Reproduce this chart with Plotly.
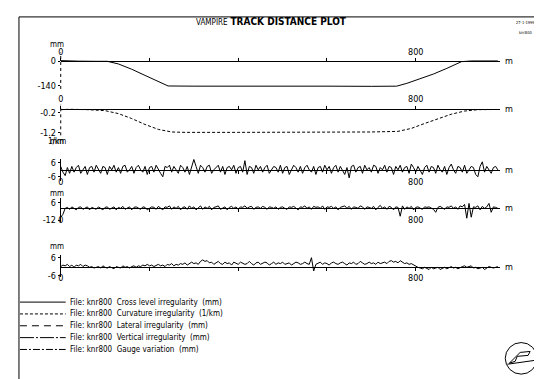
import plotly.graph_objects as go

# ---------------- data ----------------
cross_dist = [0, 15, 40, 80, 105, 130, 160, 190, 220, 242, 300, 400, 500, 600, 700, 757, 780, 810, 840, 870, 903, 925, 950, 985]
cross_level = [4, 2, 1, 0, 0, -15, -45, -80, -115, -140, -141, -140, -140, -141, -142, -141, -125, -100, -72, -40, -2, 2, 3, 2]

curv_dist = [0, 20, 60, 100, 130, 160, 190, 220, 250, 280, 400, 500, 600, 700, 760, 790, 820, 850, 880, 910, 940, 985]
curvature = [-0.05, -0.03, -0.05, -0.1, -0.25, -0.5, -0.8, -1.05, -1.18, -1.2, -1.2, -1.2, -1.19, -1.18, -1.15, -1.0, -0.75, -0.5, -0.28, -0.12, -0.05, -0.04]

# irregularities sampled every 5 m from 0 to 985 m
irr_dist = list(range(0, 990, 5))

lateral = [
    3, -2, -5, 2, -3, 3, -2, 2, 4, -3, 0, 3, -4, 2, 3, -2, 4, 0, -3, 3,
    2, -4, 3, 0, 4, -2, 2, -3, 3, 4, -2, 0, 3, -3, 2, 4, 0, -2, 3, -4,
    2, 3, -2, 4, 0, -3, -6, 3, 2, 4, -2, 3, 0, -3, 4, 2, -2, 3, -4, 2,
    9, 3, -3, 4, 2, -2, 3, 4, -3, 0, 2, 4, -2, 3, -4, 2, 3, 0, 4, -3,
    2, 3, -2, 8, -4, 3, 2, -3, 4, 0, 3, -2, 2, 4, -3, 0, 3, 2, -2, 4,
    -3, 2, 3, -4, 0, 4, 2, -2, 3, -3, 2, 4, 0, -2, 3, -4, 2, 3, -2, 4,
    0, 3, -3, 2, 4, -2, 3, 0, -4, 2, -7, 3, 4, -2, 2, 3, -3, 4, 0, 2,
    -2, 4, 3, -3, 2, 0, 4, -2, 3, 2, -4, 3, 0, 4, -2, 2, 3, -3, 5, 2,
    -2, 3, 0, -4, 2, 4, -2, 3, 2, -3, 4, 0, -2, 3, -4, 2, 5, 0, -3, 3,
    2, -2, 4, -3, 0, 3, 2, -4, -6, 3, 7, -2, 3, 0, -3, 2, 3, 0,
]

vertical = [
    -9, -6, 0, 1, -1, 1.5, 0, -1.5, 1, 1.5, -1, 0, 1.5, -1.5, 1, 0, -1, 1.5, 0, -1.5,
    1, 1.5, -1, 0, 1.5, -1.5, 1, 0, 2, -1, 0, 1.5, -1.5, 1, 1.5, 0, -1, 1.5, 1, -1.5,
    0, 1.5, 1, -1, 2, 0, -1.5, 1.5, 1, 2.5, -1, 1.5, 0, 2, -1.5, 1, 1.5, -1, 2.5, 0,
    1.5, -1.5, 1, 2.5, -1, 1.5, 0, 2, -1.5, 1, 1.5, 2.5, -1, 0, 1.5, -1.5, 1, 2, 0, 1.5,
    -1, 1.5, 1, 2.5, 0, 1.5, 2, -1, 1, 1.5, 0, 2, 1, -1, 1.5, 1, 0, 1.5, -1, 1,
    1.5, 0, -1, 1.5, 1, 2, 0, -1.5, 1.5, 1, 2.5, 0, 1.5, -1, 2, 1, 1.5, 0, 2.5, -1,
    1.5, 1, 2, 0, 1.5, -1.5, 1, 1.5, 2.5, 0, 2, -1, 1.5, 1, 0, 2.5, 1.5, -1, 1.5, 1,
    0, 2, -1.5, 1, 3, 0, 1.5, -1, 2, 1, -1.5, 1.5, 1, -8, 2.5, -1, 1.5, 0, 2, -1.5,
    1, 1.5, 0, -1, 1.5, 1, 1.5, 0, -1, -4, 1, 2, 0, -1, 1.5, 1, 2.5, 0, 1.5, -1,
    2.5, 1.5, 4, -10, 5, -9, 1.5, 1, 2.5, -1.5, 2, 0, 1.5, 5, -4, 1.5, 1, 0,
]

gauge = [
    0, 1, 0.5, 1.5, 0, 1, -0.5, 1, 0.5, 1.5, 0, 1, 0.5, -0.5, 0, -1, -0.5, 0, -1, 0.5,
    -0.5, -1, 0, -0.5, -1.5, 0, -0.5, -1, 0.5, -0.5, 0, -1, 0, 0.5, -0.5, 0.5, 0, 1, 0.5, 1.5,
    0.5, 1, 0, 1, 1.5, 0.5, 1, 0, 1.5, 1, 2, 0.5, 1.5, 1, 2, 1.5, 2.5, 1, 2, 3,
    2, 2.5, 1.5, 3.5, 4.5, 3.5, 4, 2.5, 3, 1.5, 2.5, 3.5, 2, 1.5, 3, 2, 2.5, 1, 3, 2,
    1.5, 3, 2.5, 1.5, 2, 3.5, 2, 1, 2.5, 3, 1.5, 2, 3, 2.5, 1, 2, 3, 1.5, 2.5, 2,
    3, 1.5, 2, 2.5, 1, 2, 3, 2.5, 1.5, 2, 3, 2, 1.5, 6, -3, 1.5, 2, 3, 1.5, 2.5,
    2, 1, 2.5, 3, 2, 1.5, 2.5, 3, 2, 1, 2.5, 2, 3, 1.5, 2, 3.5, 2.5, 1.5, 2, 3,
    2, 2.5, 1.5, 3, 2, 2.5, 3, 2, 3.5, 4, 3, 3.5, 2.5, 4, 3, 2, 2.5, 1.5, 2, 1,
    0.5, -0.5, -1, -1.5, -0.5, -1, -2, -0.5, -1.5, -1, -0.5, -2, -1, -0.5, -1.5, -1, 0, -1, -0.5, -1.5,
    -0.5, 0, 0.5, -0.5, 0, 0.5, -1, -0.5, -1.5, -1, -0.5, -2, -1, 0, -0.5, -1, -0.5, 0,
]

legend_names = [
    "File: knr800  Cross level irregularity  (mm)",
    "File: knr800  Curvature irregularity  (1/km)",
    "File: knr800  Lateral irregularity  (mm)",
    "File: knr800  Vertical irregularity  (mm)",
    "File: knr800  Gauge variation  (mm)",
]
legend_dashes = ["solid", "3px,2px", "7px,5px", "14px,2px,2px,2px", "7px,2px,2px,2px"]

y_ticks = [[0, -140], [-0.2, -1.2], [6, -6], [6, -12], [6, -6]]
y_ticktext = [["0", "-140"], ["-0.2", "-1.2"], ["6", "-6"], ["6", "-12"], ["6", "-6"]]
x_tickvals = [0, 200, 400, 600, 800]
x_ticktext = ["0", "", "", "", "800"]

# ---------------- layout helpers (pixel geometry) ----------------
W, H = 542, 379
FONT = "Liberation Sans Narrow, Arial Narrow, DejaVu Sans Condensed, Liberation Sans, sans-serif"


def fx(p):
    return p / W


def fy(p):
    return 1 - p / H


X0, X1 = 50, 492           # pixel extent of distance axes
XMAX = (X1 - X0) / (357 / 800)

# (zero-line pixel, pixels per unit, top pixel, bottom pixel, label side, dotted y axis)
panels = [
    (52, 25 / 140, 43, 80, "top", True),
    (100, 24 / 1.2, 96, 127, "top", True),
    (162, 7 / 6, 151, 173, "bottom", False),
    (201, 1.0, 191, 215, "bottom", False),
    (260, 1.5, 248, 271, "bottom", False),
]

series_x = [cross_dist, curv_dist, irr_dist, irr_dist, irr_dist]
series_y = [cross_level, curvature, lateral, vertical, gauge]
series_dash = ["solid", "3px,2px", "solid", "solid", "solid"]

fig = go.Figure()
layout = dict(
    width=W, height=H,
    margin=dict(l=0, r=0, t=0, b=0),
    paper_bgcolor="white", plot_bgcolor="rgba(0,0,0,0)",
    font=dict(family=FONT, size=9, color="black"),
    showlegend=False,
)

annotations = []
shapes = []
for i, (zp, s, tp, bp, side, dotted) in enumerate(panels):
    n = "" if i == 0 else str(i + 1)
    fig.add_trace(go.Scatter(
        x=series_x[i], y=series_y[i], mode="lines",
        line=dict(color="black", width=1, dash=series_dash[i]),
        xaxis="x" + n, yaxis="y" + n, showlegend=False, hoverinfo="skip",
    ))
    ytop = (zp - tp) / s
    ybot = -(bp - zp) / s
    layout["xaxis" + n] = dict(
        domain=[fx(X0), fx(X1)], range=[0, XMAX], anchor="free",
        position=fy(zp), side=side, showline=True, linecolor="black", linewidth=1,
        showgrid=False, zeroline=False, ticks="outside", ticklen=3, tickwidth=1,
        tickcolor="black", tickvals=x_tickvals, ticktext=x_ticktext,
        tickfont=dict(size=9, family=FONT), fixedrange=True,
    )
    layout["yaxis" + n] = dict(
        domain=[fy(bp), fy(tp)], range=[ybot, ytop], anchor="x" + n,
        showline=not dotted, linecolor="black", linewidth=1, showgrid=False,
        zeroline=False, ticks="outside", ticklen=2, tickwidth=1,
        tickcolor="black", tickvals=y_ticks[i], ticktext=y_ticktext[i],
        tickfont=dict(size=9, family=FONT), fixedrange=True,
    )
    if dotted:
        shapes.append(dict(
            type="line", xref="x" + n + " domain", yref="y" + n + " domain",
            x0=0, x1=0, y0=0, y1=1, line=dict(color="black", width=1, dash="dot"),
        ))
    annotations.append(dict(
        x=fx(X1 + 3), y=fy(zp), xref="paper", yref="paper", text="m",
        showarrow=False, xanchor="left", yanchor="middle",
        font=dict(size=9, family=FONT),
    ))

# unit labels above the y axes
for txt, ypix in [("mm", 35), ("1/km", 133), ("mm", 133), ("mm", 186), ("mm", 240)]:
    annotations.append(dict(
        x=fx(46), y=fy(ypix), xref="paper", yref="paper", text=txt,
        showarrow=False, xanchor="center", yanchor="middle",
        font=dict(size=8, family=FONT),
    ))

# title
annotations.append(dict(
    x=fx(262), y=fy(12), xref="paper", yref="paper",
    text="<span style='font-size:8px'>VAMPIRE</span> <b>TRACK DISTANCE PLOT</b>",
    showarrow=False, xanchor="center", yanchor="middle",
    font=dict(size=10, family=FONT),
))
# tiny header notes, top right
for txt, ypix in [("27-1-1999", 13), ("knr800", 23)]:
    annotations.append(dict(
        x=fx(517), y=fy(ypix), xref="paper", yref="paper", text=txt,
        showarrow=False, xanchor="center", yanchor="middle",
        font=dict(size=4, family=FONT, color="black"),
    ))

# legend: line samples + labels
for k, (name, dash) in enumerate(zip(legend_names, legend_dashes)):
    ypix = 296 + 12 * k
    shapes.append(dict(
        type="line", xref="paper", yref="paper",
        x0=fx(9), x1=fx(55), y0=fy(ypix), y1=fy(ypix),
        line=dict(color="black", width=1, dash=dash),
    ))
    annotations.append(dict(
        x=fx(57), y=fy(ypix), xref="paper", yref="paper", text=name,
        showarrow=False, xanchor="left", yanchor="middle",
        font=dict(size=8, family=FONT),
    ))

shapes += [
    dict(type="rect", xref="paper", yref="paper",
         x0=fx(8), x1=fx(536), y0=fy(377), y1=fy(7),
         line=dict(color="black", width=1)),
    # logo
    dict(type="circle", xref="paper", yref="paper",
         x0=fx(497), x1=fx(529), y0=fy(369), y1=fy(337),
         line=dict(color="black", width=1)),
    dict(type="path", xref="paper", yref="paper",
         path=f"M {fx(501)} {fy(358)} L {fx(512)} {fy(347)} L {fx(522)} {fy(346)} "
              f"L {fx(520)} {fy(350)} L {fx(509)} {fy(351)} L {fx(507)} {fy(356)} Z",
         line=dict(color="black", width=1)),
    dict(type="line", xref="paper", yref="paper",
         x0=fx(499), x1=fx(527), y0=fy(359), y1=fy(355),
         line=dict(color="black", width=1)),
]

layout["annotations"] = annotations
layout["shapes"] = shapes
fig.update_layout(**layout)
fig.write_html("out.html")
